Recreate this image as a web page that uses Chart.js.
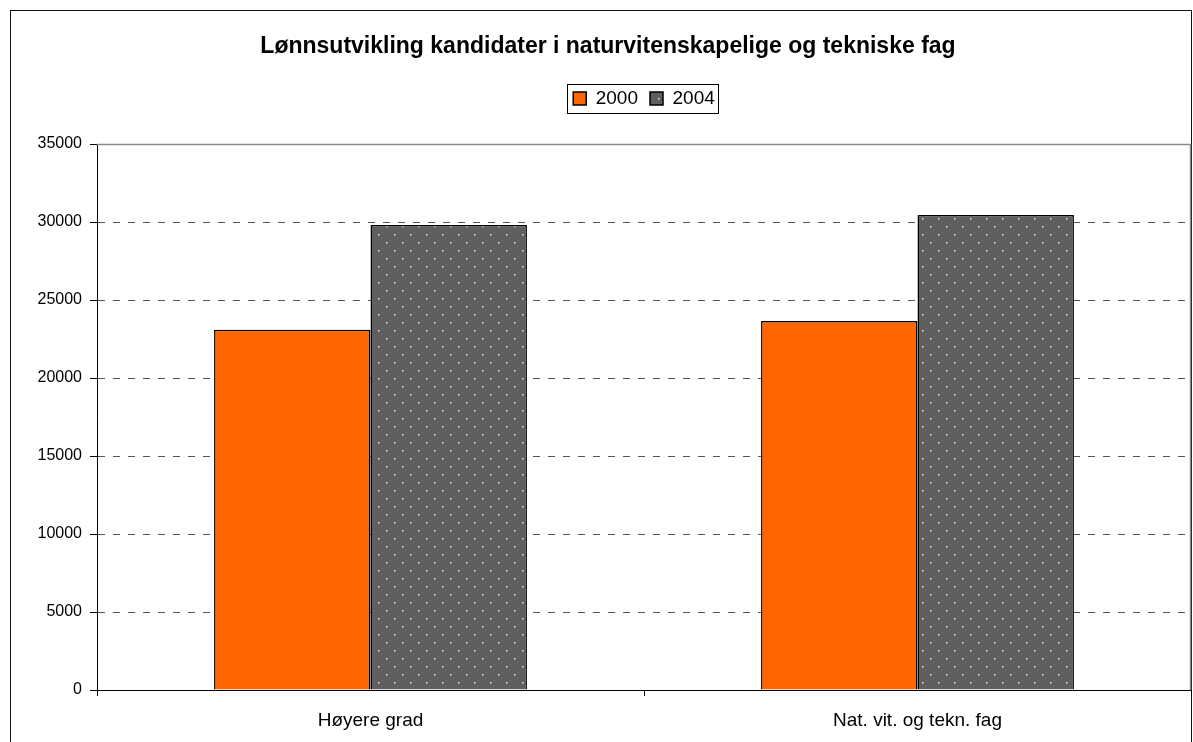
<!DOCTYPE html>
<html>
<head>
<meta charset="utf-8">
<script src="https://cdn.jsdelivr.net/npm/chart.js@4"></script>
<style>
  html, body { margin: 0; padding: 0; background: #fff; overflow: hidden; width: 1193px; height: 742px; }
  #frame { position: absolute; left: 10px; top: 10px; width: 1180px; height: 800px; border: 1px solid #111; }
  #wrap { position: absolute; left: 0; top: 0; width: 1216px; height: 742px; }
</style>
</head>
<body>
<div id="frame"></div>
<div id="wrap"><canvas id="c" width="1216" height="742"></canvas></div>
<script>
// data
const categories = ['Høyere grad', 'Nat. vit. og tekn. fag'];
const seriesNames = ['2000', '2004'];
const values2000 = [23100, 23650];
const values2004 = [29800, 30450];
const yTicks = [0, 5000, 10000, 15000, 20000, 25000, 30000, 35000];

const font = "'Liberation Sans', Arial, sans-serif";

// dotted fill for the 2004 bars
function dotPattern() {
  const p = document.createElement('canvas');
  p.width = 16; p.height = 16;
  const g = p.getContext('2d');
  g.fillStyle = '#5f5f5f';
  g.fillRect(0, 0, 16, 16);
  g.fillStyle = '#e6e6e6';
  g.fillRect(2, 2, 1.5, 1.5);
  g.fillRect(10, 10, 1.5, 1.5);
  return g.createPattern(p, 'repeat');
}

// grey border of the plot area + box round the legend
const extras = {
  id: 'extras',
  afterDraw(chart) {
    const ctx = chart.ctx;
    const a = chart.chartArea;
    ctx.save();
    ctx.strokeStyle = '#8c8c8c';
    ctx.lineWidth = 1.5;
    ctx.beginPath();
    ctx.moveTo(a.left, a.top + 0.5);
    ctx.lineTo(a.right - 0.5, a.top + 0.5);
    ctx.lineTo(a.right - 0.5, a.bottom);
    ctx.stroke();

    const boxes = chart.legend.legendHitBoxes;
    if (boxes && boxes.length) {
      const l = Math.min(...boxes.map(b => b.left)) - 6;
      const r = Math.max(...boxes.map(b => b.left + b.width)) + 3;
      const cy = boxes[0].top + boxes[0].height / 2;
      ctx.strokeStyle = '#000';
      ctx.lineWidth = 1;
      ctx.strokeRect(Math.round(l) + 0.5, Math.round(cy - 14.5) + 0.5, Math.round(r - l), 29);
    }
    ctx.restore();
  }
};

new Chart(document.getElementById('c'), {
  type: 'bar',
  data: {
    labels: categories,
    datasets: [
      { label: seriesNames[0], data: values2000, backgroundColor: '#ff6600', borderColor: '#000', borderWidth: 1.5 },
      { label: seriesNames[1], data: values2004, backgroundColor: dotPattern(), borderColor: '#000', borderWidth: 1.5 }
    ]
  },
  options: {
    responsive: false,
    animation: false,
    layout: { padding: 0 },
    datasets: { bar: { categoryPercentage: 0.572, barPercentage: 1 } },
    plugins: {
      title: {
        display: true,
        text: 'Lønnsutvikling kandidater i naturvitenskapelige og tekniske fag',
        color: '#000',
        font: { family: font, size: 23, weight: 'bold' },
        padding: { top: 33, bottom: 16.4 }
      },
      subtitle: {
        display: true,
        fullSize: false,
        text: ' ',
        weight: 500,
        font: { size: 1 },
        padding: { top: 0, bottom: 24.8 }
      },
      legend: {
        display: true,
        fullSize: false,
        position: 'top',
        labels: {
          color: '#000',
          font: { family: font, size: 19 },
          boxWidth: 13,
          boxHeight: 13,
          padding: 12
        }
      },
      tooltip: { enabled: false }
    },
    scales: {
      x: {
        offset: true,
        grid: { offset: true, drawOnChartArea: false, drawTicks: true, tickLength: 6, tickColor: '#000' },
        border: { color: '#000', width: 1 },
        ticks: { color: '#000', font: { family: font, size: 19 }, padding: 13 },
        afterFit(s) { s.height = 52; }
      },
      y: {
        min: 0,
        max: 35000,
        afterBuildTicks(s) { s.ticks = yTicks.map(v => ({ value: v })); },
        grid: { color: '#555', lineWidth: 1, tickLength: 7, tickColor: '#000' },
        border: { color: '#000', width: 1, dash: [7, 8] },
        ticks: { color: '#000', font: { family: font, size: 16 }, padding: 8, callback: v => String(v) },
        afterFit(s) { s.width = 97; }
      },
      // empty right-hand strip, only so the title centres like the original
      y2: {
        position: 'right',
        min: 0,
        max: 35000,
        grid: { display: false },
        border: { display: false },
        ticks: { display: false },
        afterFit(s) { s.width = 25; }
      }
    }
  },
  plugins: [extras]
});
</script>
</body>
</html>
